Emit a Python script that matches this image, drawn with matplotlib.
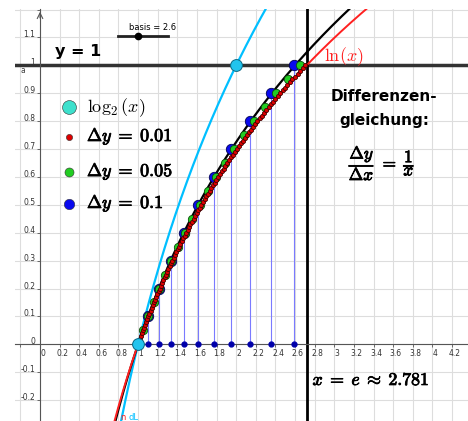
import numpy as np
import matplotlib.pyplot as plt
import matplotlib.transforms as mtransforms
import matplotlib.patheffects as pe
from matplotlib.ticker import MultipleLocator, FuncFormatter

plt.rcParams['mathtext.fontset'] = 'cm'

# Schrittweiten der Differenzengleichung  dy/dx = 1/x  (Start bei (1, 0))
delta_y = [0.01, 0.05, 0.1]
colors_dy = ['#dd0000', '#22cc22', '#0a0aee']
edges_dy = ['#440000', '#0a4a0a', '#000055']
sizes_dy = [3, 6, 7.5]

basis = 2.6                # Schieberegler
log2_x = [1, 2]            # markierte Punkte auf log2
log2_y = [0, 1]


def schritte(dy):
    # x_{n+1} = x_n + dx  mit  dx = dy * x_n
    xs, ys = [1.0], [0.0]
    while ys[-1] < 1 - 1e-9:
        xs.append(xs[-1] + dy * xs[-1])
        ys.append(ys[-1] + dy)
    return np.array(xs), np.array(ys)


# fette Formeln: CM-Glyphen mit Kontur verdickt
fett = [pe.withStroke(linewidth=0.6, foreground='black')]

fig = plt.figure(figsize=(4.68, 4.21), dpi=100)
ax = fig.add_axes([15 / 468, 0, 453 / 468, 412 / 421])
ax.set_xlim(-0.255, 4.363)
ax.set_ylim(-0.275, 1.202)

# Achsen durch den Ursprung, Gitter wie in GeoGebra
for s in ['top', 'right']:
    ax.spines[s].set_visible(False)
ax.spines['left'].set_position(('data', 0))
ax.spines['bottom'].set_position(('data', 0))
for s in ['left', 'bottom']:
    ax.spines[s].set_color('#555555')
    ax.spines[s].set_linewidth(0.8)
ax.xaxis.set_major_locator(MultipleLocator(0.2))
ax.yaxis.set_major_locator(MultipleLocator(0.1))
ax.xaxis.set_major_formatter(FuncFormatter(lambda v, p: '' if v < -0.01 else f'{v:g}'))
ax.yaxis.set_major_formatter(FuncFormatter(lambda v, p: '' if v > 1.15 else f'{round(v, 1):g}'))
ax.tick_params(direction='out', length=2, width=0.6, color='#555555',
               labelsize=5.5, labelcolor='#333333', pad=1.5)
ax.grid(color='#dddddd', lw=0.8)
ax.set_axisbelow(True)
ax.annotate('', xy=(0, 1.202), xytext=(0, 1.16),
            arrowprops=dict(arrowstyle='->', color='#555555', lw=0.8))

# Funktionen
xx = np.linspace(0.75, 4.4, 800)
ax.plot(xx, np.log2(xx), color='#00bfff', lw=1.6, zorder=3)
ax.plot(xx, np.log(xx) / np.log(basis), color='black', lw=1.6, zorder=3)
ax.plot(xx, np.log(xx), color='#ff2020', lw=1.4, zorder=3)

ax.axhline(1, color='#333333', lw=2.5, zorder=2)
ax.axvline(np.e, color='black', lw=2, zorder=2)

# Näherungspunkte
pts = [schritte(d) for d in delta_y]
xb, yb = pts[2]
ax.vlines(xb[1:], 0, yb[1:], color='#7a7aff', lw=0.8, zorder=2)
ax.plot(xb[1:], np.zeros(len(xb) - 1), 'o', ms=3.5, color='#0000aa', zorder=4)
for (px, py), c, e, m in list(zip(pts, colors_dy, edges_dy, sizes_dy))[::-1]:
    ax.plot(px, py, 'o', ms=m, mfc=c, mec=e, mew=0.6, zorder=4)
ax.plot(log2_x, log2_y, 'o', ms=8.5, mfc='#22c4ee', mec='#0b6a85', mew=0.7, zorder=5)

# Beschriftungen
ax.text(0.153, 1.048, 'y = 1', fontsize=11.5, fontweight='bold', va='center')
ax.text(-0.204, 0.983, 'a', fontsize=5.5, color='#444444', va='center')
ax.plot([0.795, 1.305], [1.105, 1.105], color='#222222', lw=2, zorder=4)
ax.plot([basis - 1.6], [1.105], 'o', ms=4.5, color='black', zorder=5)
ax.text(1.152, 1.137, f'basis = {basis}', fontsize=6, ha='center', va='center')
ax.text(3.099, 1.032, r'$\ln(x)$', fontsize=13, color='#ff2020', ha='center', va='center')
ax.text(3.507, 0.845, 'Differenzen-\ngleichung:', fontsize=11, fontweight='bold',
        ha='center', va='center', multialignment='center', linespacing=1.75)
ax.text(3.486, 0.649, r'$\dfrac{\Delta y}{\Delta x}\;=\;\dfrac{1}{x}$',
        fontsize=12.5, ha='center', va='center', path_effects=fett)
ax.text(3.374, -0.128, r'$x\;=\;e\;\approx\;2.781$', fontsize=12.8,
        ha='center', va='center', path_effects=fett)
ax.text(0.82, -0.262, 'n', fontsize=6, color='#ff2020', va='center')
ax.text(0.9, -0.262, 'dL', fontsize=6, color='#00bfff', va='center')

# Legende
leg_labels = [r'$\log_2(x)$', r'$\Delta y\;=\;0.01$',
              r'$\Delta y\;=\;0.05$', r'$\Delta y\;=\;0.1$']
leg_colors = ['#3de0cc'] + colors_dy
leg_sizes = [10, 4.5, 6.5, 7.5]
leg_y = [0.85, 0.743, 0.619, 0.503]
for i, (lab, c, m, y) in enumerate(zip(leg_labels, leg_colors, leg_sizes, leg_y)):
    ax.plot([0.296], [y], 'o', ms=m, mfc=c, mec='#333333', mew=0.4, zorder=5)
    ax.text(0.479, y, lab, fontsize=13, va='center',
            path_effects=None if i == 0 else fett)

fig.canvas.draw()
shift = mtransforms.ScaledTranslation(2 / 72, 0, fig.dpi_scale_trans)
for lab in ax.get_xticklabels():
    lab.set_transform(lab.get_transform() + shift)
for lab in ax.get_yticklabels():
    lab.set_verticalalignment('baseline')

fig.savefig('out.png', dpi=100)
